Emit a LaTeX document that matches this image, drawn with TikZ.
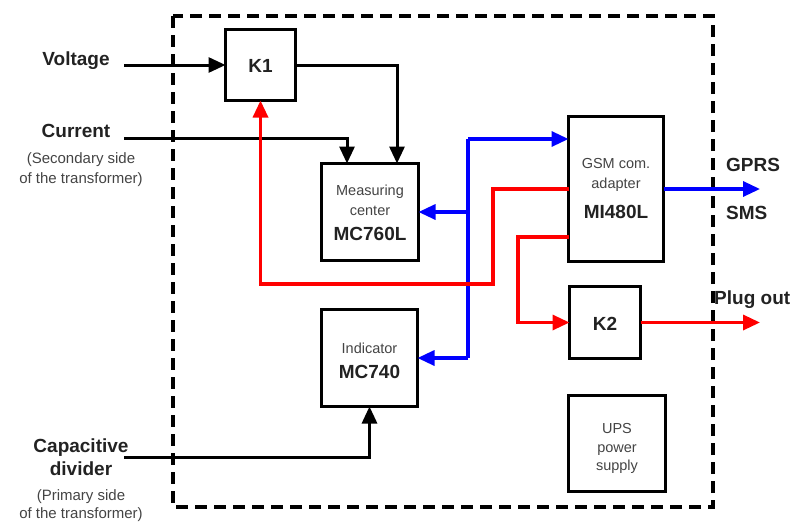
\documentclass[tikz,border=0pt]{standalone}
\usepackage{fontspec}
\setmainfont{Liberation Sans}
\usetikzlibrary{arrows.meta}
\definecolor{txtdark}{HTML}{222222}
\definecolor{txtgray}{HTML}{444444}
\definecolor{myblue}{HTML}{0000FF}
\definecolor{myred}{HTML}{FF0000}
\tikzset{
  blockbox/.style={draw=black, line width=3.2pt, fill=white, inner sep=0pt, outer sep=0pt},
  bigtxt/.style={font=\fontsize{19}{22}\selectfont\bfseries, text=txtdark, inner sep=0pt, anchor=base},
  smalltxt/.style={font=\fontsize{14.5}{17}\selectfont, text=txtgray, inner sep=0pt, anchor=base},
  notetxt/.style={font=\fontsize{15}{18}\selectfont, text=txtgray, inner sep=0pt, anchor=base},
  tip/.style={-{Triangle[length=17pt,width=15pt]}},
  blackline/.style={draw=black, line width=3pt, tip},
  blueline/.style={draw=myblue, line width=3.3pt},
  redline/.style={draw=myred, line width=3.3pt},
}
\begin{document}
\begin{tikzpicture}[x=1pt,y=-1pt]
\useasboundingbox (0,0) rectangle (799,522);
% dashed frame
\draw[line width=3.5pt, dash pattern=on 12pt off 7pt] (173,16) rectangle (713,507);
% boxes
\node[blockbox, minimum width=70pt, minimum height=71pt] (K1) at (260.5,65) {};
\node[blockbox, minimum width=97pt, minimum height=97pt] (MC) at (370,212) {};
\node[blockbox, minimum width=95pt, minimum height=145pt] (GSM) at (616,189) {};
\node[blockbox, minimum width=71pt, minimum height=72pt] (K2) at (605,322.5) {};
\node[blockbox, minimum width=96pt, minimum height=97pt] (Ind) at (369.5,358) {};
\node[blockbox, minimum width=97pt, minimum height=96pt] (UPS) at (617,443.5) {};
% box texts
\node[bigtxt] (tK1) at (260.5,72) {K1};
\node[bigtxt] (tK2) at (605,330) {K2};
\node[smalltxt] (tMC1) at (370,195) {Measuring};
\node[smalltxt] (tMC2) at (370,215) {center};
\node[bigtxt] (tMC3) at (370,240) {MC760L};
\node[smalltxt] (tG1) at (616,168) {GSM com.};
\node[smalltxt] (tG2) at (616,188) {adapter};
\node[bigtxt] (tG3) at (616,218) {MI480L};
\node[smalltxt] (tI1) at (369.5,353) {Indicator};
\node[bigtxt] (tI2) at (369.5,378) {MC740};
\node[smalltxt] (tU1) at (617,433) {UPS};
\node[smalltxt] (tU2) at (617,452) {power};
\node[smalltxt] (tU3) at (617,470) {supply};
% outside labels
\node[bigtxt] (lV) at (76,65) {Voltage};
\node[bigtxt] (lC) at (76,137) {Current};
\node[notetxt] (lC2) at (81,163) {(Secondary side};
\node[notetxt] (lC3) at (81,183) {of the transformer)};
\node[bigtxt] (lD1) at (81,452) {Capacitive};
\node[bigtxt] (lD2) at (81,475) {divider};
\node[notetxt] (lD3) at (81,500) {(Primary side};
\node[notetxt] (lD4) at (81,518) {of the transformer)};
\node[bigtxt, anchor=base west] (lG) at (726,171) {GPRS};
\node[bigtxt, anchor=base west] (lS) at (726,219) {SMS};
\node[bigtxt, anchor=base west] (lP) at (714,304) {Plug out};
% coordinates
\coordinate (vin) at (124,65);
\coordinate (cin) at (124,138);
\coordinate (din) at (124,457);
\coordinate (bt) at (468,139);
\coordinate (bm) at (468,212);
\coordinate (bb) at (468,358);
\coordinate (gout) at (760,189);
\coordinate (kout) at (760,322.5);
\coordinate (r1) at (493,284);
\coordinate (r2) at (518,322.5);
% black connectors
\draw[blackline] (vin) -- (K1.west);
\draw[blackline] (K1.east) -| ([xshift=27pt]MC.north);
\draw[blackline] (cin) -| ([xshift=-23pt]MC.north);
\draw[blackline] (din) -| (Ind.south);
% blue connectors
\draw[blueline] (bb) -- (bt);
\draw[blueline, tip] (bt) -- (bt -| GSM.west);
\draw[blueline, tip] (bm) -- (MC.east);
\draw[blueline, tip] (bb) -- (Ind.east);
\draw[blueline, tip] (GSM.east) -- (gout);
% red connectors
\draw[redline, tip] (GSM.west) -| (r1) -| (K1.south);
\draw[redline, tip] ([yshift=-48pt]GSM.west) -| (r2) -- (K2.west);
\draw[redline, tip] (K2.east) -- (kout);
\end{tikzpicture}
\end{document}
